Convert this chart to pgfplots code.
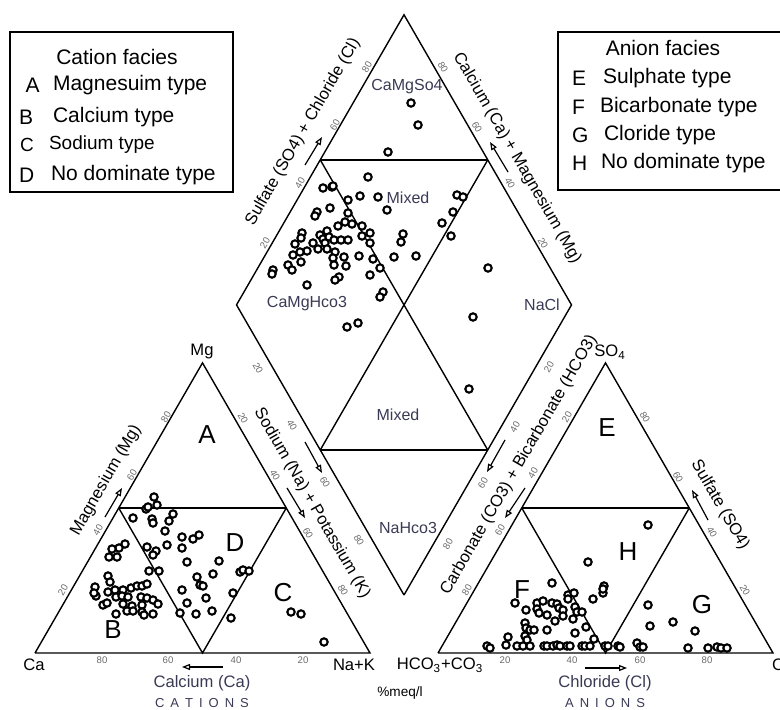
\documentclass[border=0pt]{standalone}
\usepackage{pgfplots}
\pgfplotsset{compat=1.18}
\usepackage{fontspec}
\setmainfont{Liberation Sans}
\usetikzlibrary{arrows.meta}
\newcommand\fs[1]{\fontsize{#1}{#1}\selectfont}
\definecolor{lblue}{HTML}{3A3A55}
\definecolor{tickg}{HTML}{6A6A6A}
\begin{document}
\begin{tikzpicture}
\begin{axis}[x=0.5pt,y=0.5pt,y dir=reverse,xmin=0,xmax=780,ymin=0,ymax=710,
  hide axis,clip=false,
  every axis plot/.append style={line width=0.7pt,black}]
% ---- frames ----
\addplot[no marks] coordinates {(35,653) (370,653) (202.5,362.9) (35,653)};
\addplot[no marks] coordinates {(118.75,508) (286.25,508)};
\addplot[no marks] coordinates {(118.75,508) (202.5,653) (286.25,508)};
\addplot[no marks] coordinates {(438,653) (773,653) (605.5,362.9) (438,653)};
\addplot[no marks] coordinates {(521.75,508) (689.25,508)};
\addplot[no marks] coordinates {(521.75,508) (605.5,653) (689.25,508)};
\addplot[no marks] coordinates {(404,595) (236.5,304.9) (404,14.8) (571.5,304.9) (404,595)};
\addplot[no marks] coordinates {(320.25,159.9) (487.75,159.9)};
\addplot[no marks] coordinates {(320.25,450) (487.75,450)};
\addplot[no marks] coordinates {(320.25,159.9) (487.75,450)};
\addplot[no marks] coordinates {(487.75,159.9) (320.25,450)};
% ---- arrows ----
\addplot[no marks,line width=0.6pt,-{Triangle[open,length=4pt,width=3pt]}] coordinates {(105,517) (122,488)};
\addplot[no marks,line width=0.6pt,-{Triangle[open,length=4pt,width=3pt]}] coordinates {(287,488) (305,518)};
\addplot[no marks,line width=0.6pt,-{Triangle[open,length=4pt,width=3pt]}] coordinates {(223,667) (182,667)};
\addplot[no marks,line width=0.6pt,-{Triangle[open,length=4pt,width=3pt]}] coordinates {(305,442) (322,473)};
\addplot[no marks,line width=0.6pt,-{Triangle[open,length=4pt,width=3pt]}] coordinates {(505,440) (487,472)};
\addplot[no marks,line width=0.6pt,-{Triangle[open,length=4pt,width=3pt]}] coordinates {(525,488) (505,518)};
\addplot[no marks,line width=0.6pt,-{Triangle[open,length=4pt,width=3pt]}] coordinates {(708,520) (692,490)};
\addplot[no marks,line width=0.6pt,-{Triangle[open,length=4pt,width=3pt]}] coordinates {(585,668) (627,668)};
\addplot[no marks,line width=0.6pt,-{Triangle[open,length=4pt,width=3pt]}] coordinates {(305,165) (322,137)};
\addplot[no marks,line width=0.6pt,-{Triangle[open,length=4pt,width=3pt]}] coordinates {(508,172) (490,142)};
% ---- data points ----
\addplot[only marks,mark=*,mark size=1.85pt,line width=1.05pt,mark options={fill=white,draw=black}] table {
x y
154 497
157 505
146 509
148 507
133 518
152 519
153 523
173 514
169 521
165 531
182 537
193 539
199 535
182 548
167 545
156 551
147 547
153 555
125 544
119 548
112 549
109 557
117 557
187 562
219 561
149 571
159 571
197 577
213 574
240 572
243 570
249 571
200 585
203 586
182 590
233 593
206 598
187 603
212 611
196 614
180 613
231 618
108 576
110 582
95 587
96 596
94 593
108 592
115 590
123 590
131 588
137 586
142 586
147 584
116 597
122 596
128 597
141 597
147 598
153 600
158 604
142 605
123 604
132 606
103 605
107 603
127 611
133 611
142 612
144 615
153 614
116 614
291 612
301 614
324 642
388 152
411 103
418 125
368 177
323 188
332 187
333 186
348 200
360 196
378 197
387 210
330 208
317 212
315 216
348 213
338 226
345 222
352 224
362 226
327 231
320 235
323 239
302 233
301 238
313 243
329 237
334 240
341 240
348 240
362 236
370 233
370 243
325 243
295 244
307 251
300 252
318 249
327 249
335 252
344 257
333 258
359 256
373 259
293 255
301 262
288 265
292 270
273 270
272 274
334 265
346 266
380 268
370 275
339 277
335 280
307 285
383 292
380 297
394 257
401 242
403 234
416 256
347 327
358 323
457 195
463 197
453 212
442 223
451 236
488 268
473 317
469 389
648 525
588 562
552 583
604 586
603 593
593 599
515 603
568 595
574 593
568 599
537 603
543 601
537 609
552 603
557 604
559 608
563 610
526 610
547 615
539 613
555 621
563 616
575 607
577 612
582 612
573 619
525 623
526 628
530 630
534 630
547 630
575 633
586 627
594 639
525 636
527 640
508 637
648 605
650 626
673 622
695 631
603 589
487 646
490 648
506 645
517 646
523 646
530 646
544 646
547 646
553 646
557 645
560 646
567 646
570 646
582 646
585 646
590 646
605 646
608 646
618 646
620 647
637 643
640 647
643 647
688 648
708 648
717 647
721 648
727 648
};
% ---- legend boxes ----
\draw[line width=0.6pt] (axis cs:10,32) rectangle (axis cs:233,192);
\draw[line width=0.6pt] (axis cs:558,32) rectangle (axis cs:795,190);
\node[font=\fs{10.5}] at (axis cs:117,57) {Cation facies};
\node[font=\fs{10.5},anchor=west] at (axis cs:15,85) {\,A};
\node[font=\fs{10.5},anchor=west] at (axis cs:46,85) {Magnesuim type};
\node[font=\fs{10.5},anchor=west] at (axis cs:12,117) {B};
\node[font=\fs{10.5},anchor=west] at (axis cs:46,117) {Calcium type};
\node[font=\fs{9.5},anchor=west] at (axis cs:13,145) {C};
\node[font=\fs{9.5},anchor=west] at (axis cs:42,145) {Sodium type};
\node[font=\fs{10.5},anchor=west] at (axis cs:12,175) {D};
\node[font=\fs{10.5},anchor=west] at (axis cs:44,175) {No dominate type};
\node[font=\fs{10.5}] at (axis cs:663,48) {Anion facies};
\node[font=\fs{10.5},anchor=west] at (axis cs:565,78) {E};
\node[font=\fs{10.5},anchor=west] at (axis cs:596,78) {Sulphate type};
\node[font=\fs{10.5},anchor=west] at (axis cs:565,107) {F};
\node[font=\fs{10.5},anchor=west] at (axis cs:593,107) {Bicarbonate type};
\node[font=\fs{10.5},anchor=west] at (axis cs:565,135) {G};
\node[font=\fs{10.5},anchor=west] at (axis cs:597,135) {Cloride type};
\node[font=\fs{10.5},anchor=west] at (axis cs:565,163) {H};
\node[font=\fs{10.5},anchor=west] at (axis cs:594,163) {No dominate type};
% ---- vertex labels ----
\node[font=\fs{8.3}] at (axis cs:202,352) {Mg};
\node[font=\fs{8.3}] at (axis cs:34,665) {Ca};
\node[font=\fs{8.3}] at (axis cs:354,665) {Na+K};
\node[font=\fs{8.3}] at (axis cs:440,665) {HCO\textsubscript{3}+CO\textsubscript{3}};
\node[font=\fs{8.3},anchor=west] at (axis cs:765,665) {Cl};
\node[font=\fs{8.3}] at (axis cs:610,352) {SO\textsubscript{4}};
% ---- axis titles ----
\node[font=\fs{8.3},rotate=60] at (axis cs:106,480) {Magnesium (Mg)};
\node[font=\fs{8.3},rotate=-60] at (axis cs:312,503) {Sodium (Na) + Potassium (K)};
\node[font=\fs{8.3},text=lblue] at (axis cs:202,683) {Calcium (Ca)};
\node[font=\fs{6.5},text=lblue] at (axis cs:202,703) {C\hspace{3pt}A\hspace{3pt}T\hspace{3pt}I\hspace{3pt}O\hspace{3pt}N\hspace{3pt}S};
\node[font=\fs{6.8}] at (axis cs:400,693) {\%meq/l};
\node[font=\fs{8.3},text=lblue] at (axis cs:605,683) {Chloride (Cl)};
\node[font=\fs{6.5},text=lblue] at (axis cs:605,703) {A\hspace{3pt}N\hspace{3pt}I\hspace{3pt}O\hspace{3pt}N\hspace{3pt}S};
\node[font=\fs{8.3},rotate=60] at (axis cs:519,465) {Carbonate (CO3) + Bicarbonate (HCO3)};
\node[font=\fs{8.3},rotate=-60] at (axis cs:720,505) {Sulfate (SO4)};
\node[font=\fs{8.3},rotate=60] at (axis cs:303,132) {Sulfate (SO4) + Chloride (Cl)};
\node[font=\fs{8.3},rotate=-60] at (axis cs:517,158) {Calcium (Ca) + Magnesium (Mg)};
% ---- diamond field labels ----
\node[font=\fs{8},text=lblue] at (axis cs:407,87) {CaMgSo4};
\node[font=\fs{8},text=lblue] at (axis cs:408,198) {Mixed};
\node[font=\fs{8},text=lblue] at (axis cs:307,304) {CaMgHco3};
\node[font=\fs{8},text=lblue] at (axis cs:542,305) {NaCl};
\node[font=\fs{8},text=lblue] at (axis cs:398,415) {Mixed};
\node[font=\fs{8},text=lblue] at (axis cs:408,528) {NaHco3};
% ---- region letters ----
\node[font=\fs{13}] at (axis cs:207,435) {A};
\node[font=\fs{13}] at (axis cs:113,630) {B};
\node[font=\fs{13}] at (axis cs:283,593) {C};
\node[font=\fs{13}] at (axis cs:235,543) {D};
\node[font=\fs{13}] at (axis cs:607,428) {E};
\node[font=\fs{13}] at (axis cs:522,590) {F};
\node[font=\fs{13}] at (axis cs:702,605) {G};
\node[font=\fs{13}] at (axis cs:628,552) {H};
% ---- tick numbers ----
\begin{scope}[every node/.style={font=\fs{4.8},text=tickg}]
\node[rotate=60] at (axis cs:63,590) {20};
\node[rotate=60] at (axis cs:98,530) {40};
\node[rotate=60] at (axis cs:132,475) {60};
\node[rotate=60] at (axis cs:166,417) {80};
\node at (axis cs:102,660) {80};
\node at (axis cs:168,660) {60};
\node at (axis cs:236,660) {40};
\node at (axis cs:303,660) {20};
\node[rotate=-60] at (axis cs:243,418) {20};
\node[rotate=-60] at (axis cs:275,475) {40};
\node[rotate=-60] at (axis cs:308,533) {60};
\node[rotate=-60] at (axis cs:343,590) {80};
\node[rotate=-60] at (axis cs:258,368) {20};
\node[rotate=-60] at (axis cs:292,425) {40};
\node[rotate=-60] at (axis cs:325,482) {60};
\node[rotate=-60] at (axis cs:359,540) {80};
\node[rotate=60] at (axis cs:549,367) {20};
\node[rotate=60] at (axis cs:515,427) {40};
\node[rotate=60] at (axis cs:483,483) {60};
\node[rotate=60] at (axis cs:448,544) {80};
\node[rotate=60] at (axis cs:567,417) {20};
\node[rotate=60] at (axis cs:533,473) {40};
\node[rotate=60] at (axis cs:500,530) {60};
\node[rotate=60] at (axis cs:467,590) {80};
\node at (axis cs:505,660) {20};
\node at (axis cs:572,660) {40};
\node at (axis cs:640,660) {60};
\node at (axis cs:707,660) {80};
\node[rotate=-60] at (axis cs:645,417) {80};
\node[rotate=-60] at (axis cs:678,477) {60};
\node[rotate=-60] at (axis cs:712,532) {40};
\node[rotate=-60] at (axis cs:745,590) {20};
\node[rotate=60] at (axis cs:367,67) {80};
\node[rotate=60] at (axis cs:335,125) {60};
\node[rotate=60] at (axis cs:300,183) {40};
\node[rotate=60] at (axis cs:265,243) {20};
\node[rotate=-60] at (axis cs:443,67) {80};
\node[rotate=-60] at (axis cs:477,127) {60};
\node[rotate=-60] at (axis cs:510,183) {40};
\node[rotate=-60] at (axis cs:543,243) {20};
\end{scope}
\coordinate (bbsw) at (axis cs:0,710);
\coordinate (bbne) at (axis cs:780,0);
\end{axis}
\pgfresetboundingbox
\path[use as bounding box] (bbsw) rectangle (bbne);
\end{tikzpicture}
\end{document}
